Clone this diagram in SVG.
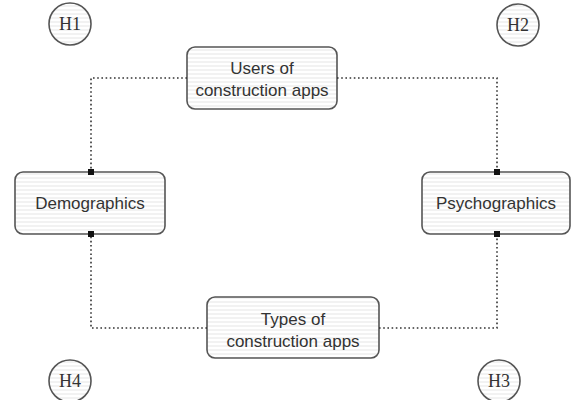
<svg xmlns="http://www.w3.org/2000/svg" width="572" height="400" viewBox="0 0 572 400">
<defs>
<pattern id="hatch" width="4" height="4" patternUnits="userSpaceOnUse">
<rect width="4" height="4" fill="#ffffff"/>
<line x1="0" y1="2" x2="4" y2="2" stroke="#e6e6e6" stroke-width="1"/>
</pattern>
<marker id="sq" viewBox="0 0 6 6" refX="3" refY="3" markerWidth="6" markerHeight="6" markerUnits="userSpaceOnUse">
<rect width="6" height="6" fill="#111"/>
</marker>
</defs>
<style>
.box{fill:url(#hatch);stroke:#555;stroke-width:1.6}
.circ{fill:url(#hatch);stroke:#555;stroke-width:1.6}
.lbl{font-family:"Liberation Sans",Arial,sans-serif;font-size:17px;fill:#333;text-anchor:middle}
.h{font-family:"Liberation Serif","Times New Roman",serif;font-size:18px;fill:#333;text-anchor:middle}
.con{fill:none;stroke:#333;stroke-width:1.6;stroke-dasharray:1.6 2.6}
</style>
<rect width="572" height="400" fill="#fff"/>
<g id="users">
<rect class="box" x="187" y="47" width="150" height="62" rx="8"/>
<text class="lbl" x="262" y="74">Users of</text>
<text class="lbl" x="262" y="96">construction apps</text>
</g>
<g id="demographics">
<rect class="box" x="15" y="172" width="150" height="62" rx="8"/>
<text class="lbl" x="90" y="209">Demographics</text>
</g>
<g id="psychographics">
<rect class="box" x="422" y="172" width="148" height="62" rx="8"/>
<text class="lbl" x="496" y="209">Psychographics</text>
</g>
<g id="types">
<rect class="box" x="207" y="297" width="172" height="61" rx="8"/>
<text class="lbl" x="293" y="325">Types of</text>
<text class="lbl" x="293" y="347">construction apps</text>
</g>
<g id="H1">
<circle class="circ" cx="70" cy="24" r="21"/>
<text class="h" x="70" y="30">H1</text>
</g>
<g id="H2">
<circle class="circ" cx="518" cy="25" r="21"/>
<text class="h" x="518" y="31">H2</text>
</g>
<g id="H3">
<circle class="circ" cx="499" cy="381" r="21"/>
<text class="h" x="499" y="387">H3</text>
</g>
<g id="H4">
<circle class="circ" cx="70" cy="381" r="21"/>
<text class="h" x="70" y="387">H4</text>
</g>
<g id="connectors">
<path class="con" d="M187 78 H91 V172" marker-end="url(#sq)"/>
<path class="con" d="M337 78 H497 V172" marker-end="url(#sq)"/>
<path class="con" d="M207 328 H91 V234" marker-end="url(#sq)"/>
<path class="con" d="M379 328 H497 V234" marker-end="url(#sq)"/>
</g>
</svg>
